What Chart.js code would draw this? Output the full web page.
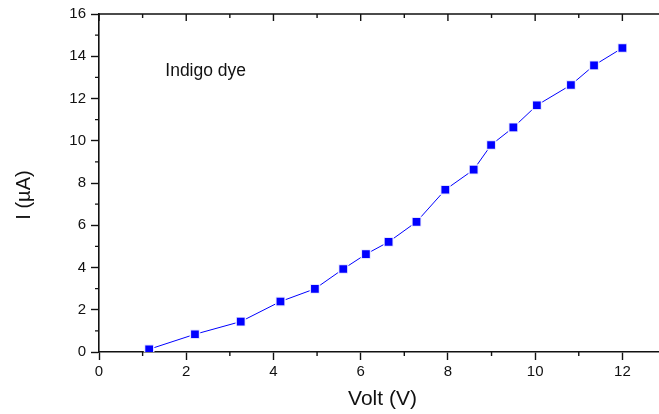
<!DOCTYPE html>
<html>
<head>
<meta charset="utf-8">
<script src="https://cdn.jsdelivr.net/npm/chart.js@4"></script>
<style>
  html, body { margin: 0; padding: 0; background: #fff; overflow: hidden; }
  #chart { display: block; }
</style>
</head>
<body>
<canvas id="chart" width="674" height="414"></canvas>
<script>
// I-V curve of the indigo dye cell
var voltage = [1.15, 2.20, 3.25, 4.16, 4.95, 5.60, 6.12, 6.64, 7.28, 7.94, 8.59, 8.99, 9.50, 10.04, 10.82, 11.35, 12.0];
var current = [0.13, 0.84, 1.44, 2.39, 2.99, 3.93, 4.63, 5.21, 6.16, 7.68, 8.63, 9.80, 10.63, 11.68, 12.64, 13.57, 14.39];

var xTicks = [0, 2, 4, 6, 8, 10, 12];
var yTicks = [0, 2, 4, 6, 8, 10, 12, 14, 16];
var xMinor = [1, 3, 5, 7, 9, 11, 13];
var yMinor = [1, 3, 5, 7, 9, 11, 13, 15];

var seriesName = 'Indigo dye';
var xTitle = 'Volt (V)';
var yTitle = 'I (\u00b5A)';

var FONT = "'Liberation Sans', Arial, sans-serif";
var INK = '#111';

// frame: top/right axes with inward ticks, minor ticks, note and y title
var framePlugin = {
    id: 'frame',
    afterDraw: function (chart) {
        var c = chart.ctx, a = chart.chartArea;
        var xs = chart.scales.x, ys = chart.scales.y;
        c.save();
        c.strokeStyle = INK;
        c.lineWidth = 1.6;
        c.beginPath();
        c.moveTo(a.left, a.top); c.lineTo(a.right, a.top); c.lineTo(a.right, a.bottom);
        c.stroke();

        c.lineWidth = 1.4;
        c.beginPath();
        xTicks.forEach(function (v) {
            var px = xs.getPixelForValue(v);
            c.moveTo(px, a.top); c.lineTo(px, a.top + 7);
        });
        xMinor.forEach(function (v) {
            var px = xs.getPixelForValue(v);
            c.moveTo(px, a.top); c.lineTo(px, a.top + 4);
            c.moveTo(px, a.bottom); c.lineTo(px, a.bottom + 4);
        });
        yTicks.forEach(function (v) {
            var py = ys.getPixelForValue(v);
            c.moveTo(a.right, py); c.lineTo(a.right - 7, py);
        });
        yMinor.forEach(function (v) {
            var py = ys.getPixelForValue(v);
            c.moveTo(a.right, py); c.lineTo(a.right - 4, py);
            c.moveTo(a.left, py); c.lineTo(a.left - 4, py);
        });
        c.stroke();

        c.fillStyle = INK;
        c.font = '17.5px ' + FONT;
        c.textAlign = 'left';
        c.textBaseline = 'alphabetic';
        c.fillText(seriesName, xs.getPixelForValue(1.52), ys.getPixelForValue(13.05));

        c.translate(24, 195);
        c.rotate(-Math.PI / 2);
        c.font = '20px ' + FONT;
        c.textAlign = 'center';
        c.textBaseline = 'middle';
        c.fillText(yTitle, 0, 0);
        c.restore();
    }
};

var ctx = document.getElementById('chart').getContext('2d');
var ivChart = new Chart(ctx, {
    type: 'scatter',
    data: {
        datasets: [{
            label: seriesName,
            data: voltage.map(function (v, i) { return { x: v, y: current[i] }; }),
            showLine: true,
            borderColor: '#0000ff',
            borderWidth: 1,
            backgroundColor: '#0000ff',
            pointStyle: 'rect',
            pointRadius: 6.5,
            pointBackgroundColor: '#0000ff',
            pointBorderColor: 'rgba(255,255,255,0.85)',
            pointBorderWidth: 1.5
        }]
    },
    options: {
        responsive: false,
        animation: false,
        layout: { padding: { top: 14, right: 2.5, left: 0, bottom: 0 } },
        plugins: {
            legend: { display: false },
            tooltip: { enabled: false }
        },
        scales: {
            x: {
                type: 'linear',
                min: 0,
                max: 13,
                afterBuildTicks: function (s) { s.ticks = xTicks.map(function (v) { return { value: v }; }); },
                afterFit: function (s) { s.height = 62; },
                ticks: { color: INK, font: { family: FONT, size: 15 }, padding: 3, maxRotation: 0 },
                grid: { drawOnChartArea: false, tickLength: 8, tickWidth: 1.4, tickColor: INK },
                border: { color: INK, width: 1.6 },
                title: { display: true, text: xTitle, color: INK, font: { family: FONT, size: 21 }, padding: { top: 0, bottom: 2 } }
            },
            y: {
                type: 'linear',
                min: 0,
                max: 16,
                afterBuildTicks: function (s) { s.ticks = yTicks.map(function (v) { return { value: v }; }); },
                afterFit: function (s) { s.width = 99; },
                ticks: { color: INK, font: { family: FONT, size: 15 }, padding: 5 },
                grid: { drawOnChartArea: false, tickLength: 8, tickWidth: 1.4, tickColor: INK },
                border: { color: INK, width: 1.6 }
            }
        }
    },
    plugins: [framePlugin]
});
</script>
</body>
</html>
